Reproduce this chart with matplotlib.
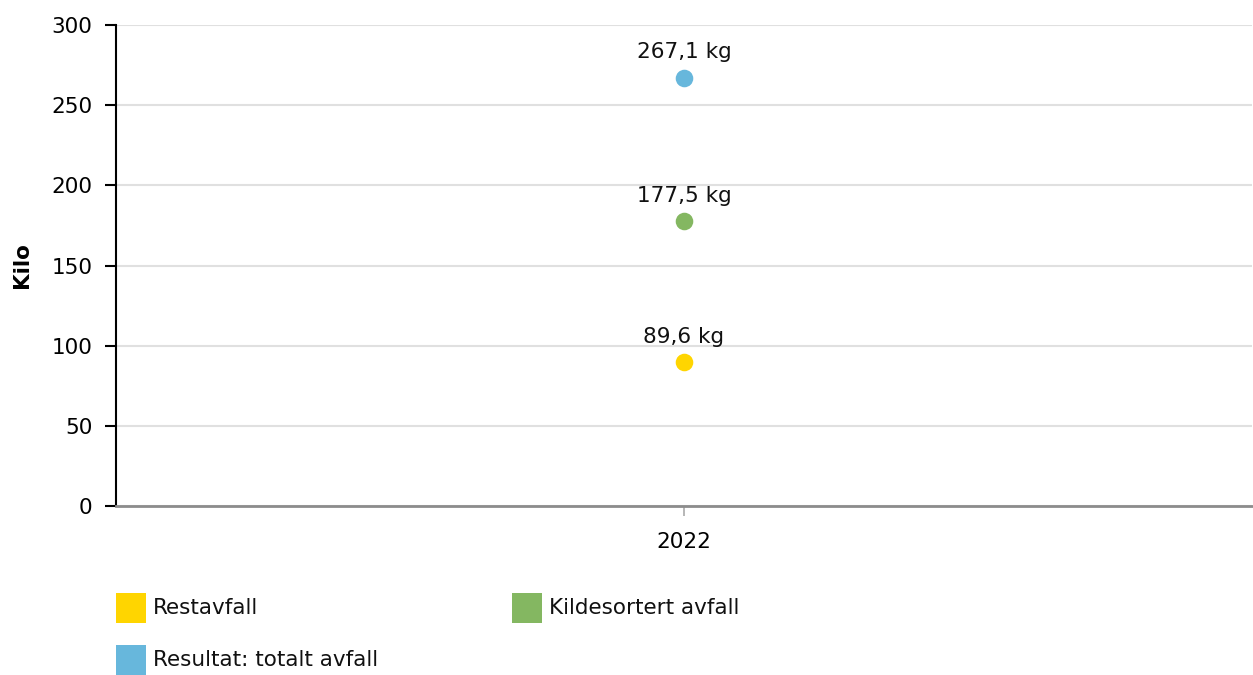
import matplotlib
matplotlib.use("Agg")
import matplotlib.pyplot as plt
from matplotlib.patches import Rectangle

categories = ["2022"]
series_names = ["Restavfall", "Kildesortert avfall", "Resultat: totalt avfall"]
series_values = [[89.6], [177.5], [267.1]]
series_labels = [["89,6 kg"], ["177,5 kg"], ["267,1 kg"]]
colors = ["#FFD500", "#84B761", "#67B7DC"]
y_ticks = [0, 50, 100, 150, 200, 250, 300]
y_label = "Kilo"

plt.rcParams['font.family'] = ['DejaVu Sans']
FS = 15.5
W, H = 1253, 675
fig = plt.figure(figsize=(W / 100, H / 100), dpi=100)
ax = fig.add_axes([116 / W, 1 - 506 / H, (1252 - 116) / W, (506 - 25) / H])

xs = list(range(len(categories)))
for name, vals, labs, c in zip(series_names, series_values, series_labels, colors):
    ax.scatter(xs, vals, s=160, color=c, zorder=3, linewidths=0)
    for x, v, l in zip(xs, vals, labs):
        ax.annotate(l, (x, v), xytext=(0, 14), textcoords="offset points",
                    ha="center", va="baseline", fontsize=FS, color="#111111")

ax.set_xlim(-0.5, len(categories) - 0.5)
ax.set_ylim(0, 300)
ax.set_yticks(y_ticks)
ax.set_xticks(xs)
ax.set_xticklabels(categories)
ax.grid(axis="y", color="#e0e0e0", linewidth=1.5, zorder=0)
ax.set_axisbelow(True)
for s in ["top", "right"]:
    ax.spines[s].set_visible(False)
ax.spines["left"].set_color("#000000")
ax.spines["left"].set_linewidth(1.5)
ax.spines["bottom"].set_color("#8c8c8c")
ax.spines["bottom"].set_linewidth(2)
ax.tick_params(axis="y", length=8, width=1.5, color="#000000", labelsize=FS, pad=9)
ax.tick_params(axis="x", length=7, width=1.2, color="#aaaaaa", labelsize=FS, pad=12)
ax.set_ylabel(y_label, fontsize=FS, fontweight="bold")
ax.yaxis.set_label_coords(-84 / (1252 - 116), 0.5)

# Legend (manual)
leg_pos = [(116, 593), (512, 593), (116, 645)]
for (lx, ly), name, c in zip(leg_pos, series_names, colors):
    fig.patches.append(Rectangle((lx / W, 1 - (ly + 30) / H), 30 / W, 30 / H,
                                 transform=fig.transFigure, color=c, linewidth=0))
    fig.text((lx + 37) / W, 1 - (ly + 15) / H, name, fontsize=FS, va="center", ha="left",
             color="#111111")

fig.savefig("out.png", dpi=100)
